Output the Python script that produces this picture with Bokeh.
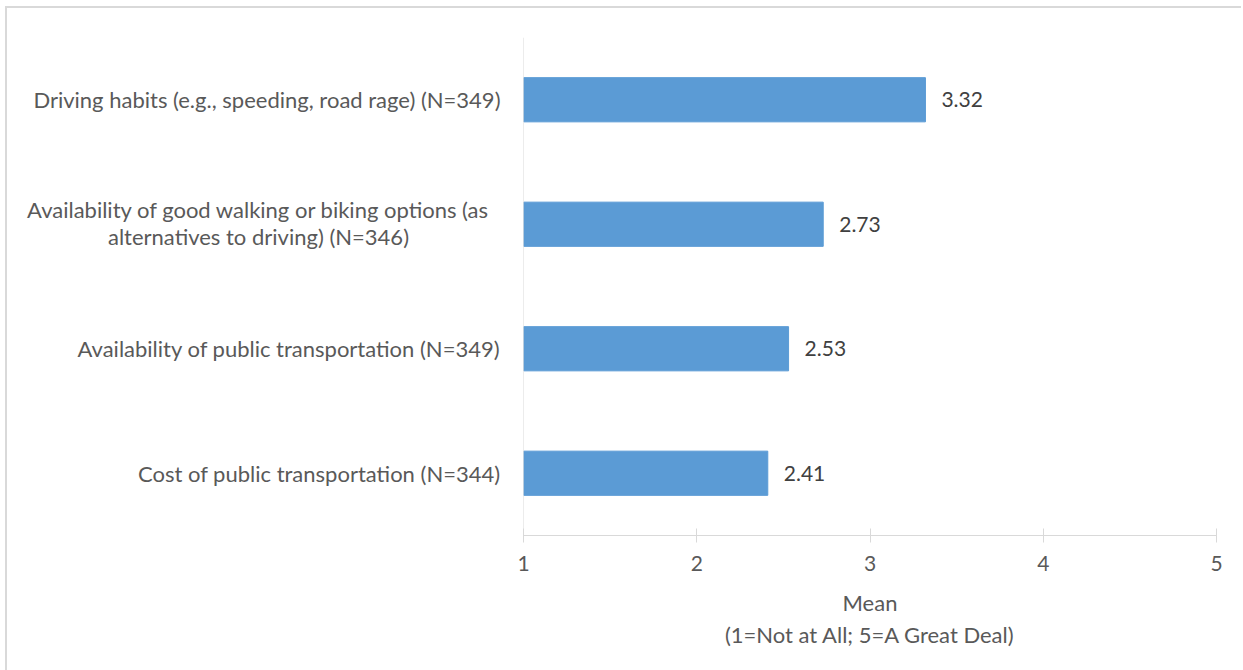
from bokeh.plotting import figure
from bokeh.layouts import row
from bokeh.models import Range1d, FixedTicker, Span
from bokeh.embed import file_html
from bokeh.resources import INLINE
from bokeh.core.properties import value

# Survey items (top to bottom) and their mean ratings
categories = [
    "Driving habits (e.g., speeding, road rage) (N=349)",
    "Availability of good walking or biking options (as\nalternatives to driving) (N=346)",
    "Availability of public transportation (N=349)",
    "Cost of public transportation (N=344)",
]
means = [3.32, 2.73, 2.53, 2.41]
mean_labels = ["3.32", "2.73", "2.53", "2.41"]
x_ticks = [1, 2, 3, 4, 5]
x_title = "Mean\n(1=Not at All; 5=A Great Deal)"

FONT = "Lato"
GRID = "#d9d9d9"
TEXT = "#595959"
BAR = "#5b9bd5"
FS = "22px"

# first item at the top
n = len(categories)
ypos = [n - 1 - i for i in range(n)]
y_range = Range1d(-0.5, n - 0.5)

H = 662
TOP, BOTTOM = 29, 135
LABEL_W = 506

# ---- bar panel ----
p = figure(
    width=728, height=H, y_range=y_range, x_range=Range1d(1, 5),
    output_backend="svg", toolbar_location=None,
    min_border_left=10, min_border_right=25,
    min_border_top=TOP, min_border_bottom=BOTTOM,
)
p.outline_line_color = None
p.grid.visible = False
p.yaxis.visible = False

p.hbar(y=ypos, left=1, right=means, height=0.355, color=BAR)
p.add_layout(Span(location=1, dimension="height", line_color=GRID, line_width=1))

p.text(x=means, y=ypos, text=mean_labels, x_offset=16,
       text_baseline="middle", text_align="left", text_color="#404040",
       text_font=value(FONT), text_font_size="21px")

xa = p.xaxis[0]
xa.ticker = FixedTicker(ticks=x_ticks)
xa.axis_line_color = GRID
xa.major_tick_line_color = GRID
xa.major_tick_in = 7
xa.major_tick_out = 7
xa.minor_tick_line_color = None
xa.major_label_text_color = TEXT
xa.major_label_text_font = FONT
xa.major_label_text_font_size = "21px"
xa.major_label_standoff = 13
xa.axis_label = x_title
xa.axis_label_text_color = TEXT
xa.axis_label_text_font = FONT
xa.axis_label_text_font_size = FS
xa.axis_label_text_font_style = "normal"
xa.axis_label_text_line_height = 1.2
xa.axis_label_standoff = 15

# ---- item-name panel ----
q = figure(
    width=LABEL_W, height=H, y_range=y_range, x_range=Range1d(0, LABEL_W),
    output_backend="svg", toolbar_location=None,
    min_border_left=0, min_border_right=0,
    min_border_top=TOP, min_border_bottom=BOTTOM,
)
q.outline_line_color = None
q.grid.visible = False
q.axis.visible = False

sx, sy, st = [], [], []
wx, wy, wt, wo = [], [], [], []
for c, y in zip(categories, ypos):
    lines = c.split("\n")
    if len(lines) == 1:
        sx.append(LABEL_W - 13); sy.append(y); st.append(c)
    else:
        k = len(lines)
        for i, line in enumerate(lines):
            wx.append(251); wy.append(y); wt.append(line)
            wo.append(-1 - (k - 1) / 2 * 27 + i * 27)

q.text(x=sx, y=sy, text=st, text_align="right", text_baseline="middle",
       text_color=TEXT, text_font=value(FONT), text_font_size=FS)
q.text(x=wx, y=wy, text=wt, y_offset=wo, text_align="center", text_baseline="middle",
       text_color=TEXT, text_font=value(FONT), text_font_size=FS)

layout = row(q, p, margin=(6, 0, 0, 5),
             styles={"border-top": "2px solid #d9d9d9", "border-left": "2px solid #d9d9d9"})

open("out.html", "w").write(file_html(layout, INLINE))
